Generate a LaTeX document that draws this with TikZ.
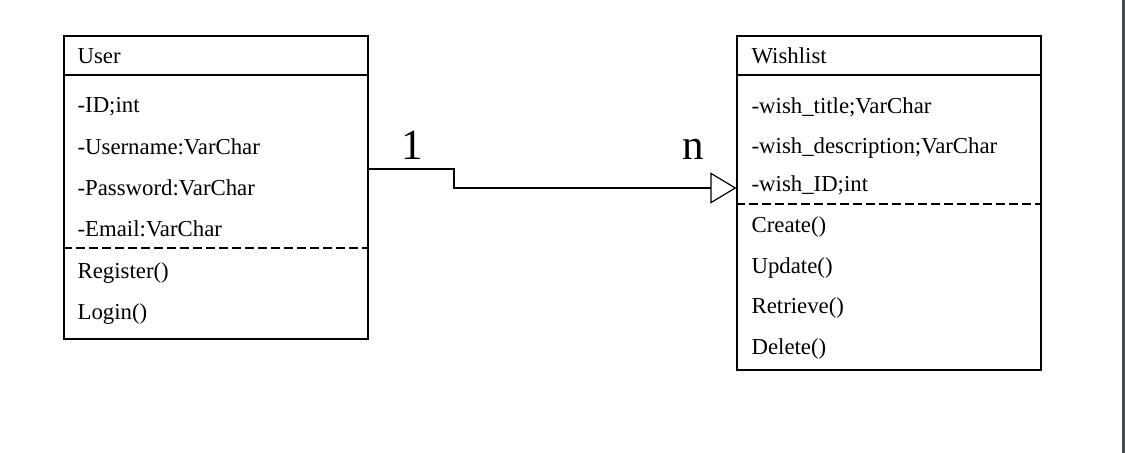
\documentclass[tikz,border=0pt]{standalone}
\usepackage{fontspec}
\setmainfont{Liberation Serif}
\usetikzlibrary{arrows.meta, calc}
\definecolor{edgegray}{HTML}{464C4E}

\begin{document}
\begin{tikzpicture}[x=0.5pt, y=-0.5pt, line width=0.6pt,
  classbox/.style={draw, rectangle, inner sep=0pt, minimum width=152pt},
  member/.style={anchor=base west, inner sep=0pt, font=\fontsize{11.4}{13}\selectfont},
  multiplicity/.style={anchor=base, inner sep=0pt, font=\fontsize{21.5}{24}\selectfont},
  sepline/.style={dash pattern=on 4.5pt off 2pt},
  assoc/.style={-{Triangle[open, length=13pt, width=15.5pt]}}]
% Page and window edge
\fill[white] (0,0) rectangle (1125,453);
\useasboundingbox (0,0) rectangle (1125,453);
\fill[edgegray] (1122,0) rectangle (1125,453);
% User class
\node[classbox, minimum height=151.5pt] (user) at (216,187.5) {};
\draw (user.west |- 0,75) -- (user.east |- 0,75);
\draw[sepline] (user.west |- 0,248) -- (user.east |- 0,248);
\node[member] (usertitle) at (77,64) {User};
\node[member] (userid) at (77,113) {-ID;int};
\node[member] (username) at (77,155) {-Username:VarChar};
\node[member] (userpass) at (77,196) {-Password:VarChar};
\node[member] (usermail) at (77,237) {-Email:VarChar};
\node[member] (userreg) at (77,279) {Register()};
\node[member] (userlogin) at (77,320) {Login()};
% Wishlist class
\node[classbox, minimum height=167pt] (wish) at (889,203) {};
\draw (wish.west |- 0,75) -- (wish.east |- 0,75);
\draw[sepline] (wish.west |- 0,204) -- (wish.east |- 0,204);
\node[member] (wishtitle) at (751,64) {Wishlist};
\node[member] (wishname) at (751,114) {-wish\_title;VarChar};
\node[member] (wishdesc) at (751,154) {-wish\_description;VarChar};
\node[member] (wishid) at (751,192) {-wish\_ID;int};
\node[member] (wishcreate) at (751,233) {Create()};
\node[member] (wishupdate) at (751,274) {Update()};
\node[member] (wishget) at (751,314) {Retrieve()};
\node[member] (wishdelete) at (751,355) {Delete()};
% Association with multiplicities
\coordinate (userport) at (user.east |- 0,169);
\coordinate (wishport) at (wish.west |- 0,188);
\draw[assoc] (userport) -| (454,188) -- (wishport);
\node[multiplicity] (one) at (412,160) {1};
\node[multiplicity] (many) at (693,160) {n};
\end{tikzpicture}
\end{document}
